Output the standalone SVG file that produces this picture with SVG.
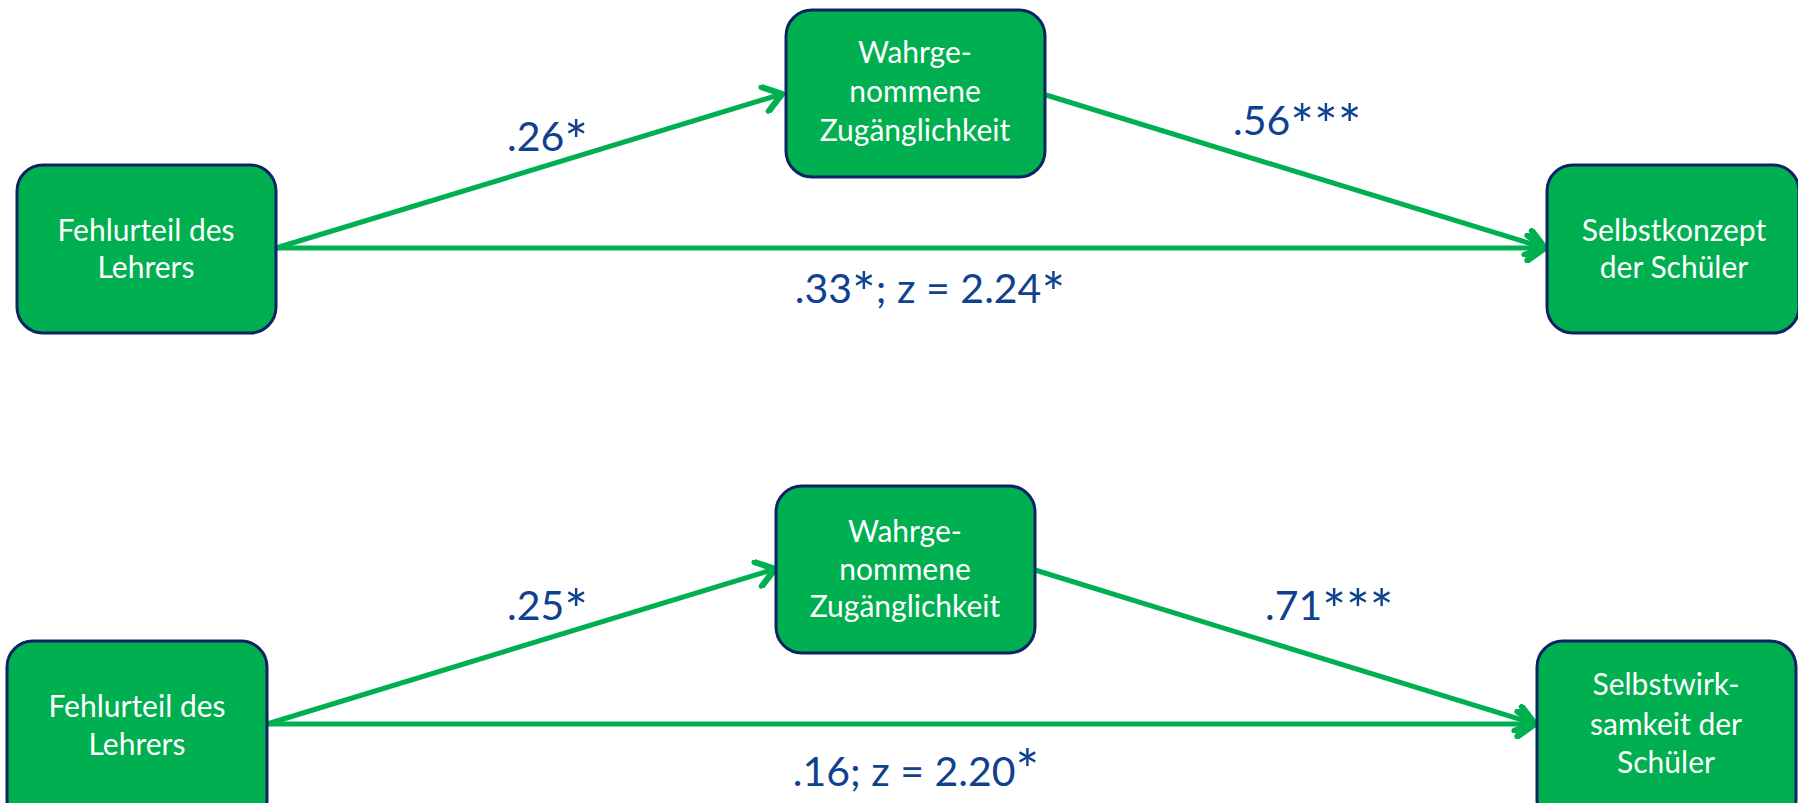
<svg xmlns="http://www.w3.org/2000/svg" width="1798" height="803" viewBox="0 0 1798 803">
<style>
.box{fill:#00AF50;stroke:#0D2366;stroke-width:3}
.bt{font-family:Lato,"Open Sans",sans-serif;font-size:30px;fill:#FFFFFF;text-anchor:middle}
.lbl{font-family:Lato,"Open Sans",sans-serif;font-size:41px;fill:#0F418F}
.st{font-size:56px}
.con{stroke:#00B050;stroke-width:5;fill:none;marker-end:url(#arr)}
</style>
<defs>
<marker id="arr" markerUnits="userSpaceOnUse" markerWidth="30" markerHeight="30" refX="20" refY="12" orient="auto" viewBox="0 0 24 24">
<path d="M6,2 L20,12 L6,22" fill="none" stroke="#00B050" stroke-width="5" stroke-linecap="round" stroke-linejoin="round"/>
</marker>
</defs>
<rect width="1798" height="803" fill="#FFFFFF"/>
<g id="connectors">
<line class="con" x1="276" y1="248" x2="782" y2="94"/>
<line class="con" x1="276" y1="248" x2="1545" y2="248"/>
<line class="con" x1="1046" y1="95" x2="1545" y2="248"/>
<line class="con" x1="267" y1="724" x2="775" y2="569"/>
<line class="con" x1="267" y1="724" x2="1535" y2="724"/>
<line class="con" x1="1035" y1="570" x2="1535" y2="724"/>
</g>
<g id="labels">
<text class="lbl" x="507" y="151">.26<tspan class="st" dy="10">*</tspan></text>
<text class="lbl" x="1233" y="135">.56<tspan class="st" dy="10">***</tspan></text>
<text class="lbl" x="930" y="303" text-anchor="middle">.33<tspan class="st" dy="10">*</tspan><tspan dy="-10">; z = 2.24</tspan><tspan class="st" dy="10">*</tspan></text>
<text class="lbl" x="507" y="620">.25<tspan class="st" dy="10">*</tspan></text>
<text class="lbl" x="1265" y="620">.71<tspan class="st" dy="10">***</tspan></text>
<text class="lbl" x="916" y="786" text-anchor="middle">.16; z = 2.20<tspan class="st" dy="4">*</tspan></text>
</g>
<g id="n1">
<rect class="box" x="17" y="165" width="259" height="168" rx="26"/>
<text class="bt" x="146" y="241">Fehlurteil des</text>
<text class="bt" x="146" y="278">Lehrers</text>
</g>
<g id="n2">
<rect class="box" x="786" y="10" width="259" height="167" rx="26"/>
<text class="bt" x="915" y="63">Wahrge-</text>
<text class="bt" x="915" y="102">nommene</text>
<text class="bt" x="915" y="141">Zugänglichkeit</text>
</g>
<g id="n3">
<rect class="box" x="1547" y="165" width="252" height="168" rx="26"/>
<text class="bt" x="1674" y="241">Selbstkonzept</text>
<text class="bt" x="1674" y="278">der Schüler</text>
</g>
<g id="n4">
<rect class="box" x="7" y="641" width="260" height="185" rx="26"/>
<text class="bt" x="137" y="717">Fehlurteil des</text>
<text class="bt" x="137" y="755">Lehrers</text>
</g>
<g id="n5">
<rect class="box" x="776" y="486" width="259" height="167" rx="26"/>
<text class="bt" x="905" y="542">Wahrge-</text>
<text class="bt" x="905" y="580">nommene</text>
<text class="bt" x="905" y="617">Zugänglichkeit</text>
</g>
<g id="n6">
<rect class="box" x="1537" y="641" width="259" height="185" rx="26"/>
<text class="bt" x="1666" y="695">Selbstwirk-</text>
<text class="bt" x="1666" y="735">samkeit der</text>
<text class="bt" x="1666" y="773">Schüler</text>
</g>
</svg>
